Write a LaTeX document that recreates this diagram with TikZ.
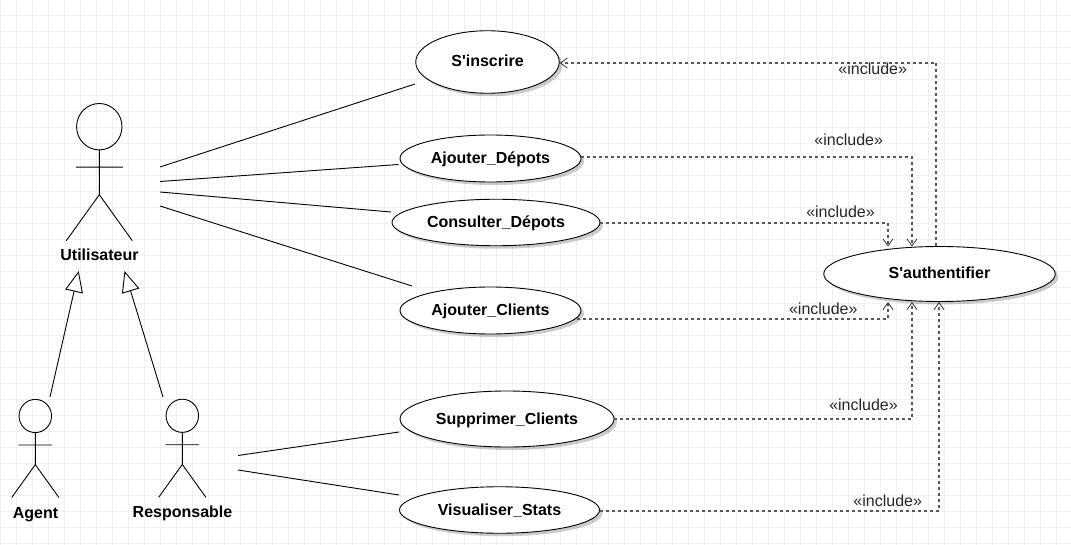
\documentclass[tikz,border=0pt]{standalone}
\usepackage{fontspec}
\setmainfont{Liberation Sans}
\usetikzlibrary{arrows.meta,shapes.geometric,shadows}

\begin{document}
\begin{tikzpicture}[x=1pt,y=-1pt,line width=.9pt,
        usecase/.style={ellipse, draw, fill=white, inner sep=0pt, text height=10pt, text depth=0pt,
                        font=\fontsize{16}{18}\bfseries,
                        drop shadow={shadow xshift=3pt,shadow yshift=-3pt,opacity=.2,fill=black}},
        lbl/.style={inner sep=0pt, anchor=base, font=\fontsize{16}{18}\bfseries},
        incl/.style={inner sep=0pt, text=black!85, font=\fontsize{16}{18}\selectfont},
        assoc/.style={draw},
        inh/.style={draw, -{Triangle[open,fill=white,length=21pt,width=18pt]}},
        dep/.style={draw, black!65, line width=1.5pt, dash pattern=on 3pt off 3pt,
                        -{Straight Barb[color=black!80,line width=.8pt,length=7pt,width=10pt]}},
        actor/.pic={
            \draw (0,0) circle[x radius=22.7,y radius=23.2];
            \draw (0,23.2) -- (0,68)
                  (-23.5,40.5) -- (23.5,40.5)
                  (0,68) -- (-33,114) (0,68) -- (33,114);
        }]
    \useasboundingbox (0,0) rectangle (1071,545);

    % grid
    \foreach \x in {0,...,66}
        \draw[black!6,line width=1pt] (\x*16+.5,0) -- (\x*16+.5,545);
    \foreach \y in {0,...,33}
        \draw[black!6,line width=1pt] (0,\y*16+15.5) -- (1071,\y*16+15.5);

    % actors
    \pic at (99.3,126.7) {actor};
    \pic[scale=.715] at (35.3,416) {actor};
    \pic[scale=.715] at (182.3,415.8) {actor};
    \node[lbl] (utilisateur) at (99.5,261) {Utilisateur};
    \node[lbl] (agent) at (35.5,518) {Agent};
    \node[lbl] (responsable) at (182.5,517) {Responsable};

    % use cases
    \node[usecase, minimum width=143.5pt, minimum height=62.5pt] (inscrire) at (487.5,62) {S\textquotesingle inscrire};
    \node[usecase, minimum width=181pt, minimum height=47pt] (ajoutDepots) at (490.5,158.5) {Ajouter\_Dépots};
    \node[usecase, minimum width=208pt, minimum height=46.5pt] (consultDepots) at (496,222.5) {Consulter\_Dépots};
    \node[usecase, minimum width=181pt, minimum height=47pt] (ajoutClients) at (490.5,310.5) {Ajouter\_Clients};
    \node[usecase, minimum width=214pt, minimum height=56pt] (supprClients) at (507,419) {Supprimer\_Clients};
    \node[usecase, minimum width=200pt, minimum height=46.5pt] (visuStats) at (499.5,510) {Visualiser\_Stats};
    \node[usecase, minimum width=231.5pt, minimum height=55pt] (auth) at (939.5,274) {S\textquotesingle authentifier};

    % free ends of the associations
    \coordinate (uA) at (160,167);
    \coordinate (uB) at (160,181.5);
    \coordinate (uC) at (160,192);
    \coordinate (uD) at (160,206);
    \coordinate (rA) at (238,455.5);
    \coordinate (rB) at (238,470);
    \coordinate (inscrireEnd) at (415,84);
    \coordinate (ajoutDepotsEnd) at (398.5,164.5);
    \coordinate (consultDepotsEnd) at (391,212);
    \coordinate (ajoutClientsEnd) at (412,286);
    \coordinate (supprClientsEnd) at (399,432);
    \coordinate (visuStatsEnd) at (399,495);

    \foreach \a/\b in {uA/inscrireEnd,uB/ajoutDepotsEnd,uC/consultDepotsEnd,uD/ajoutClientsEnd,
                       rA/supprClientsEnd,rB/visuStatsEnd}
        \draw[assoc] (\a) -- (\b);

    % inheritance
    \coordinate (agentTop) at (50,397);
    \coordinate (respTop) at (163,397);
    \coordinate (utilLeft) at (78.7,271);
    \coordinate (utilRight) at (124.5,271);
    \draw[inh] (agentTop) -- (utilLeft);
    \draw[inh] (respTop) -- (utilRight);

    % include arrows, routed through the corners
    \coordinate (authTopA) at (888,246.5);
    \coordinate (authTopB) at (912,246.5);
    \coordinate (authTopC) at (936,246.5);
    \coordinate (authBotA) at (888,302);
    \coordinate (authBotB) at (912,302);
    \coordinate (authBotC) at (939,302);
    \coordinate (cornerInscrire) at (936,63);
    \coordinate (cornerDepots) at (912,157);
    \coordinate (cornerConsult) at (888,223);
    \coordinate (cornerClients) at (888,319);
    \coordinate (cornerSuppr) at (912,419);
    \coordinate (cornerVisu) at (939,511);

    \draw[dep] (authTopC) -- (cornerInscrire) -- (inscrire.east |- cornerInscrire);
    \draw[dep] (ajoutDepots.1 |- cornerDepots) -- (cornerDepots) -- (authTopB);
    \draw[dep] (consultDepots.east |- cornerConsult) -- (cornerConsult) -- (authTopA);
    \draw[dep] (ajoutClients.-5.4 |- cornerClients) -- (cornerClients) -- (authBotA);
    \draw[dep] (supprClients.east |- cornerSuppr) -- (cornerSuppr) -- (authBotB);
    \draw[dep] (visuStats.east |- cornerVisu) -- (cornerVisu) -- (authBotC);

    \node[incl] (inclA) at (872.7,68.5) {«include»};
    \node[incl] (inclB) at (848.7,139.5) {«include»};
    \node[incl] (inclC) at (840.5,211.5) {«include»};
    \node[incl] (inclD) at (823.3,308.5) {«include»};
    \node[incl] (inclE) at (863.5,404.5) {«include»};
    \node[incl] (inclF) at (887.7,500.5) {«include»};
\end{tikzpicture}
\end{document}
